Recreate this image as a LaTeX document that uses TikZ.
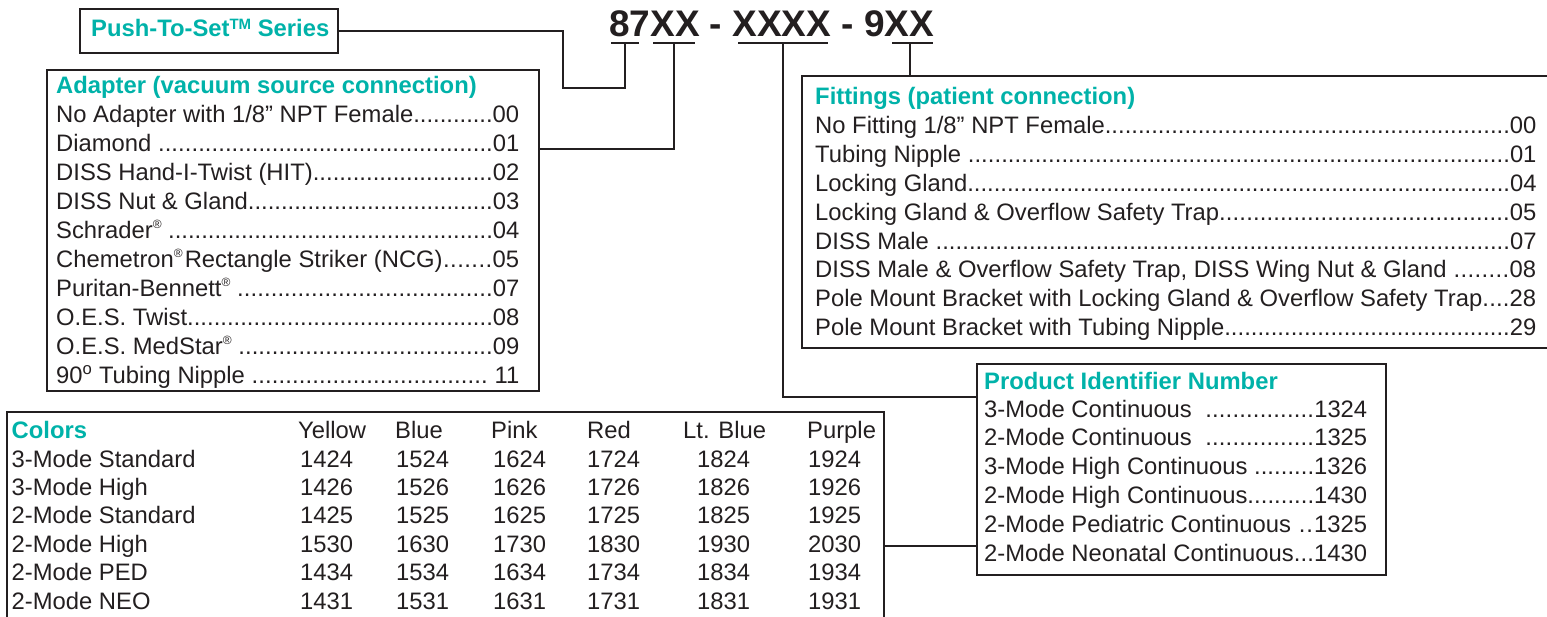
\documentclass[tikz,border=0pt]{standalone}
\usepackage{fontspec}
\setmainfont{Liberation Sans}
\definecolor{tealc}{RGB}{0,178,169}
\definecolor{ink}{RGB}{35,31,32}
\newcommand\lrow[3]{\hbox to #1{#2\xleaders\hbox{.}\hfill#3}}
\newcommand\sreg{\raisebox{0.42em}{\fontsize{12}{12}\selectfont ®}}
\begin{document}
\begin{tikzpicture}[x=1pt,y=-1pt,
  box/.style={draw=ink, line width=2.6pt, inner sep=0pt, outer sep=0pt, anchor=north west},
  conn/.style={draw=ink, line width=2pt},
  uline/.style={draw=ink, line width=2.2pt},
  ttl/.style={text=tealc, font=\bfseries\fontsize{23.8}{28}\selectfont, inner sep=0pt, anchor=base west},
  row/.style={text=ink, font=\fontsize{23.8}{28}\selectfont, inner sep=0pt, anchor=base west},
]
\useasboundingbox (0,0) rectangle (1547,617);
\clip (0,0) rectangle (1547,617);

% ---- code line
\node[anchor=base west, inner sep=0pt, text=ink, font=\bfseries\fontsize{37}{40}\selectfont] (code) at (609,36.7) {87XX - XXXX - 9XX};
\draw[uline] (611,43) -- (639,43);
\draw[uline] (653,43) -- (695,43);
\draw[uline] (738,43) -- (828,43);
\draw[uline] (892,43) -- (933,43);
\coordinate (u87) at (625,43);
\coordinate (uXX) at (674,43);
\coordinate (uXXXX) at (783,43);
\coordinate (u9XX) at (910,43);

% ---- Push-To-Set box
\node[box, minimum width=258pt, minimum height=44pt] (push) at (80,9) {};
\node[ttl] (pusht) at (91,36.7) {Push-To-Set\raisebox{0.32em}{\fontsize{15}{15}\selectfont TM} Series};

% ---- Adapter box
\node[box, minimum width=492pt, minimum height=321pt] (adapter) at (47,70) {};
\node[ttl] (adt) at (56,94) {Adapter (vacuum source connection)};
\node[row] (a0) at (56,123.0) {\lrow{463pt}{No Adapter with 1/8” NPT Female}{00}};
\node[row] (a1) at (56,151.9) {\lrow{463pt}{Diamond }{01}};
\node[row] (a2) at (56,180.8) {\lrow{463pt}{DISS Hand-I-Twist (HIT)}{02}};
\node[row] (a3) at (56,209.7) {\lrow{463pt}{DISS Nut \& Gland}{03}};
\node[row] (a4) at (56,238.6) {\lrow{463pt}{Schrader\sreg\ }{04}};
\node[row] (a5) at (56,267.5) {\lrow{463pt}{Chemetron\sreg\hspace{2pt}Rectangle Striker (NCG)}{05}};
\node[row] (a6) at (56,296.4) {\lrow{463pt}{Puritan-Bennett\sreg\ }{07}};
\node[row] (a7) at (56,325.3) {\lrow{463pt}{O.E.S. Twist}{08}};
\node[row] (a8) at (56,354.2) {\lrow{463pt}{O.E.S. MedStar\sreg\ }{09}};
\node[row] (a9) at (56,383.1) {\lrow{463pt}{90\textsuperscript{o} Tubing Nipple }{\ 11}};

% ---- Fittings box
\node[box, minimum width=780pt, minimum height=272pt] (fit) at (802,76) {};
\node[ttl] (fitt) at (815,105) {Fittings (patient connection)};
\node[row] (f0) at (815,134.0) {\lrow{721pt}{No Fitting 1/8” NPT Female}{00}};
\node[row] (f1) at (815,162.8) {\lrow{721pt}{Tubing Nipple }{01}};
\node[row] (f2) at (815,191.6) {\lrow{721pt}{Locking Gland}{04}};
\node[row] (f3) at (815,220.4) {\lrow{721pt}{Locking Gland \& Overflow Safety Trap}{05}};
\node[row] (f4) at (815,249.2) {\lrow{721pt}{DISS Male }{07}};
\node[row] (f5) at (815,278.0) {\lrow{721pt}{DISS Male \& Overflow Safety Trap, DISS Wing Nut \& Gland }{08}};
\node[row] (f6) at (815,306.8) {\lrow{721pt}{Pole Mount Bracket with Locking Gland \& Overflow Safety Trap}{28}};
\node[row] (f7) at (815,335.6) {\lrow{721pt}{Pole Mount Bracket with Tubing Nipple}{29}};

% ---- Product Identifier box
\node[box, minimum width=409pt, minimum height=211pt] (prod) at (977,364) {};
\node[ttl] (prodt) at (984,389) {Product Identifier Number};
\node[row] (p0) at (984,417.0) {\lrow{383pt}{3-Mode Continuous\ \ }{1324}};
\node[row] (p1) at (984,445.8) {\lrow{383pt}{2-Mode Continuous\ \ }{1325}};
\node[row] (p2) at (984,474.6) {\lrow{383pt}{3-Mode High Continuous }{1326}};
\node[row] (p3) at (984,503.4) {\lrow{383pt}{2-Mode High Continuous}{1430}};
\node[row] (p4) at (984,532.2) {\lrow{383pt}{2-Mode Pediatric Continuous }{1325}};
\node[row] (p5) at (984,561.0) {\lrow{383pt}{2-Mode Neonatal Continuous}{1430}};

% ---- Colors box
\node[box, minimum width=877pt, minimum height=260pt] (colors) at (7,412) {};
\node[ttl] (colt) at (11.5,438) {Colors};
\node[row] (hy) at (298,438) {Yellow};
\node[row] (hb) at (395,438) {Blue};
\node[row] (hp) at (491,438) {Pink};
\node[row] (hr) at (587,438) {Red};
\node[row] (hl) at (683,438) {Lt. Blue};
\node[row] (hu) at (807,438) {Purple};
\foreach \lab/\va/\vb/\vc/\vd/\ve/\vf [count=\i from 0] in {
  3-Mode Standard/1424/1524/1624/1724/1824/1924,
  3-Mode High/1426/1526/1626/1726/1826/1926,
  2-Mode Standard/1425/1525/1625/1725/1825/1925,
  2-Mode High/1530/1630/1730/1830/1930/2030,
  2-Mode PED/1434/1534/1634/1734/1834/1934,
  2-Mode NEO/1431/1531/1631/1731/1831/1931}{
  \pgfmathsetmacro\yy{467+28.4*\i}
  \node[row] (cl\i) at (11.5,\yy) {\lab};
  \node[row] (ca\i) at (300,\yy) {\va};
  \node[row] (cb\i) at (396,\yy) {\vb};
  \node[row] (cc\i) at (493,\yy) {\vc};
  \node[row] (cd\i) at (587,\yy) {\vd};
  \node[row] (ce\i) at (697,\yy) {\ve};
  \node[row] (cf\i) at (808,\yy) {\vf};
}

% ---- junction points on box borders
\coordinate (jA) at (539,149);
\coordinate (jP) at (977,397);
\coordinate (jC) at (884,546);
\coordinate (jF) at (910,76);

% ---- connectors
\draw[conn] (push.east) -- (563,31) -- (563,88) -- (625,88) -- (u87);
\draw[conn] (jA) -| (uXX);
\draw[conn] (uXXXX) |- (jP);
\draw[conn] (jC) -- (jC -| prod.west);
\draw[conn] (u9XX) -- (jF);
\end{tikzpicture}
\end{document}
